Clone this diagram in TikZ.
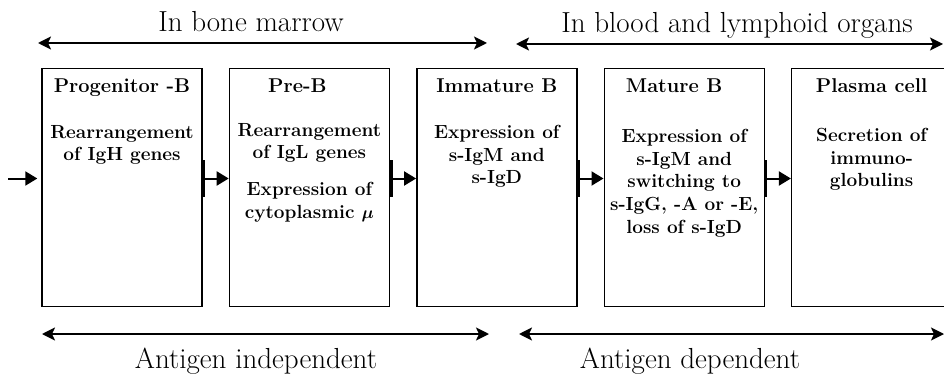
\documentclass[tikz,border=0pt]{standalone}
\usetikzlibrary{positioning,arrows.meta}
\tikzset{
  stage box/.style={
    draw,
    line width=1.4pt,
    minimum width=160pt,
    minimum height=238pt,
  },
  stage title/.style={
    anchor=base,
    inner sep=0pt,
    font=\bfseries\fontsize{20}{22}\selectfont,
  },
  stage text/.style={
    anchor=north,
    inner sep=0pt,
    align=center,
    font=\bfseries\fontsize{19}{22.8}\selectfont,
  },
  step arrow/.style={
    line width=2pt,
    {Bar[width=36pt,line width=2.4pt]}-{Triangle[length=12pt,width=14pt]},
  },
  span arrow/.style={
    line width=2pt,
    {Stealth[length=13pt,width=13pt,inset=3pt]}-{Stealth[length=13pt,width=13pt,inset=3pt]},
  },
  span label/.style={
    anchor=base,
    inner sep=0pt,
    font=\fontsize{29}{32}\selectfont,
  }
}
\begin{document}
\begin{tikzpicture}[x=1pt,y=1pt,node distance=26pt]
        \useasboundingbox (0,0) rectangle (944,386);

        % the five stages
        \node [stage box] (b1) at (122,198.5) {};
        \node [stage box, right=of b1] (b2) {};
        \node [stage box, right=of b2] (b3) {};
        \node [stage box, right=of b3] (b4) {};
        \node [stage box, right=of b4] (b5) {};

        \node [stage title] (h1) at ([yshift=-25pt]b1.north) {Progenitor -B};
        \node [stage title] (h2) at ([xshift=-12pt,yshift=-25pt]b2.north) {Pre-B};
        \node [stage title] (h3) at ([yshift=-25pt]b3.north) {Immature B};
        \node [stage title] (h4) at ([xshift=-10pt,yshift=-25pt]b4.north) {Mature B};
        \node [stage title] (h5) at ([yshift=-25pt]b5.north) {Plasma cell};

        \node [stage text] (t1) at ([yshift=-57pt]b1.north) {Rearrangement\\of IgH genes};
        \node [stage text] (t2) at ([yshift=-55pt]b2.north) {Rearrangement\\of IgL genes\\[14pt]Expression of\\cytoplasmic {\boldmath$\mu$}};
        \node [stage text] (t3) at ([yshift=-57pt]b3.north) {Expression of\\s-IgM and\\s-IgD};
        \node [stage text] (t4) at ([yshift=-61pt]b4.north) {Expression of\\s-IgM and\\switching to\\s-IgG, -A or -E,\\loss of s-IgD};
        \node [stage text] (t5) at ([yshift=-60pt]b5.north) {Secretion of\\immuno-\\globulins};

        % steps
        \coordinate (in) at (8,207.5);
        \draw [line width=2pt, -{Triangle[length=12pt,width=14pt]}, shorten >=4pt] (in) -- ([yshift=9pt]b1.west);
        \draw [step arrow] ([yshift=9pt]b1.east) -- ([yshift=9pt]b2.west);
        \draw [step arrow] ([yshift=9pt]b2.east) -- ([yshift=9pt]b3.west);
        \draw [step arrow] ([yshift=9pt]b3.east) -- ([yshift=9pt]b4.west);
        \draw [step arrow] ([yshift=9pt]b4.east) -- ([yshift=9pt]b5.west);

        % where and how
        \coordinate (bm1) at (38,343);
        \coordinate (bm2) at (487,343);
        \coordinate (bl1) at (516,342);
        \coordinate (bl2) at (943,342);
        \coordinate (ai1) at (42,52);
        \coordinate (ai2) at (489,52);
        \coordinate (ad1) at (519,52);
        \coordinate (ad2) at (944,52);
        \draw [span arrow] (bm1) -- (bm2);
        \draw [span arrow] (bl1) -- (bl2);
        \draw [span arrow] (ai1) -- (ai2);
        \draw [span arrow] (ad1) -- (ad2);

        \node [span label] (l1) at (251,354) {In bone marrow};
        \node [span label] (l2) at (737,353) {In blood and lymphoid organs};
        \node [span label] (l3) at (256,18) {Antigen independent};
        \node [span label] (l4) at (690,18) {Antigen dependent};
      \end{tikzpicture}
\end{document}
